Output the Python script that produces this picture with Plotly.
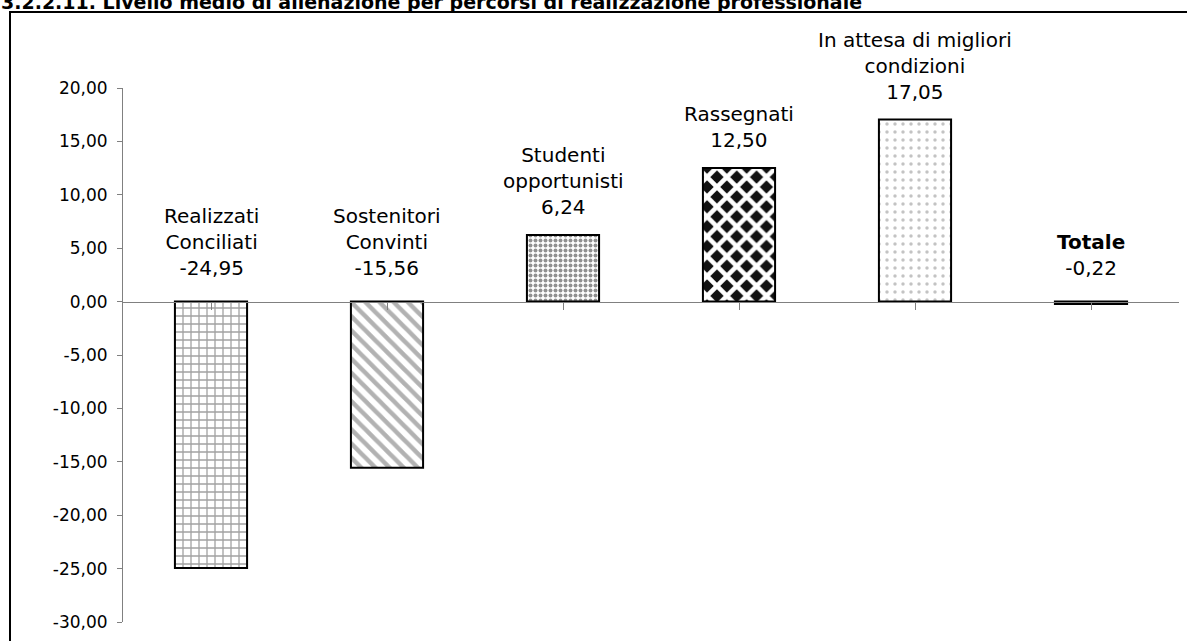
import plotly.graph_objects as go

# ---- data ----
categories = ["Realizzati<br>Conciliati", "Sostenitori<br>Convinti", "Studenti<br>opportunisti",
              "Rassegnati", "In attesa di migliori<br>condizioni", "<b>Totale</b>"]
values = [-24.95, -15.56, 6.24, 12.50, 17.05, -0.22]
y_ticks = [-30, -25, -20, -15, -10, -5, 0, 5, 10, 15, 20]
title_text = "3.2.2.11. Livello medio di alienazione per percorsi di realizzazione professionale"

# ---- styles ----
patterns = [
    dict(shape="+", fgcolor="#444444", bgcolor="white", size=8, solidity=0.3),
    dict(shape="\\", fgcolor="#666666", bgcolor="white", size=10, solidity=0.45),
    dict(shape=".", fgcolor="#222222", bgcolor="white", size=5, solidity=0.5),
    dict(shape="x", fgcolor="white", bgcolor="#111111", size=14, solidity=0.55, fgopacity=1),
    dict(shape=".", fgcolor="#888888", bgcolor="white", size=8, solidity=0.15),
    dict(shape="", fgcolor="black", bgcolor="black"),
]
FONT = "DejaVu Sans"


def fmt(v):
    return f"{v:.2f}".replace(".", ",")


fig = go.Figure()
x_idx = list(range(len(categories)))
for i, (c, v) in enumerate(zip(categories, values)):
    fig.add_trace(go.Bar(
        x=[i], y=[v], width=0.41,
        marker=dict(color="black" if i == 5 else "white",
                    line=dict(color="black", width=2),
                    pattern=patterns[i]),
        showlegend=False, hoverinfo="skip",
    ))

for i, (c, v) in enumerate(zip(categories, values)):
    base = v if v > 0 else 0
    shift = 14 if v > 0 else 20
    fig.add_annotation(x=i, y=base, xref="x", yref="y",
                       text=f"{c}<br>{fmt(v)}", showarrow=False,
                       yanchor="bottom", yshift=shift,
                       font=dict(family=FONT, size=20, color="black"))

L, R, T, B = 123, 8, 88, 19
W, H = 1187, 641
pw, ph = W - L - R, H - T - B


def px_x(p):
    return (p - L) / pw


def px_y(p):
    return (H - B - p) / ph


# border
fig.add_shape(type="rect", xref="paper", yref="paper",
              x0=px_x(10), x1=px_x(1195), y0=px_y(650), y1=px_y(12),
              line=dict(color="black", width=2), fillcolor="rgba(0,0,0,0)", layer="below")
# title
fig.add_annotation(xref="paper", yref="paper", x=px_x(-1), y=px_y(15),
                   xanchor="left", yanchor="bottom", text=f"<b>{title_text}</b>",
                   showarrow=False, font=dict(family=FONT, size=19, color="black"))

fig.update_layout(
    width=W, height=H,
    margin=dict(l=L, r=R, t=T, b=B),
    paper_bgcolor="white", plot_bgcolor="white",
    xaxis=dict(range=[-0.5, 5.5], tickvals=x_idx, showticklabels=False,
               anchor="free", position=30 / 50, showline=True, linecolor="#808080",
               linewidth=1, ticks="outside", tickson="boundaries", ticklen=7,
               tickcolor="#808080", showgrid=False, zeroline=False),
    yaxis=dict(range=[-30, 20], tickvals=y_ticks, ticktext=[fmt(t) for t in y_ticks],
               showline=True, linecolor="#808080", linewidth=1,
               ticks="outside", ticklen=5, tickcolor="#808080",
               ticklabelstandoff=6,
               showgrid=False, zeroline=False,
               tickfont=dict(family=FONT, size=17, color="black")),
)

fig.write_html("out.html", config={"displayModeBar": False},
               post_script="document.body.style.margin='0px';")
